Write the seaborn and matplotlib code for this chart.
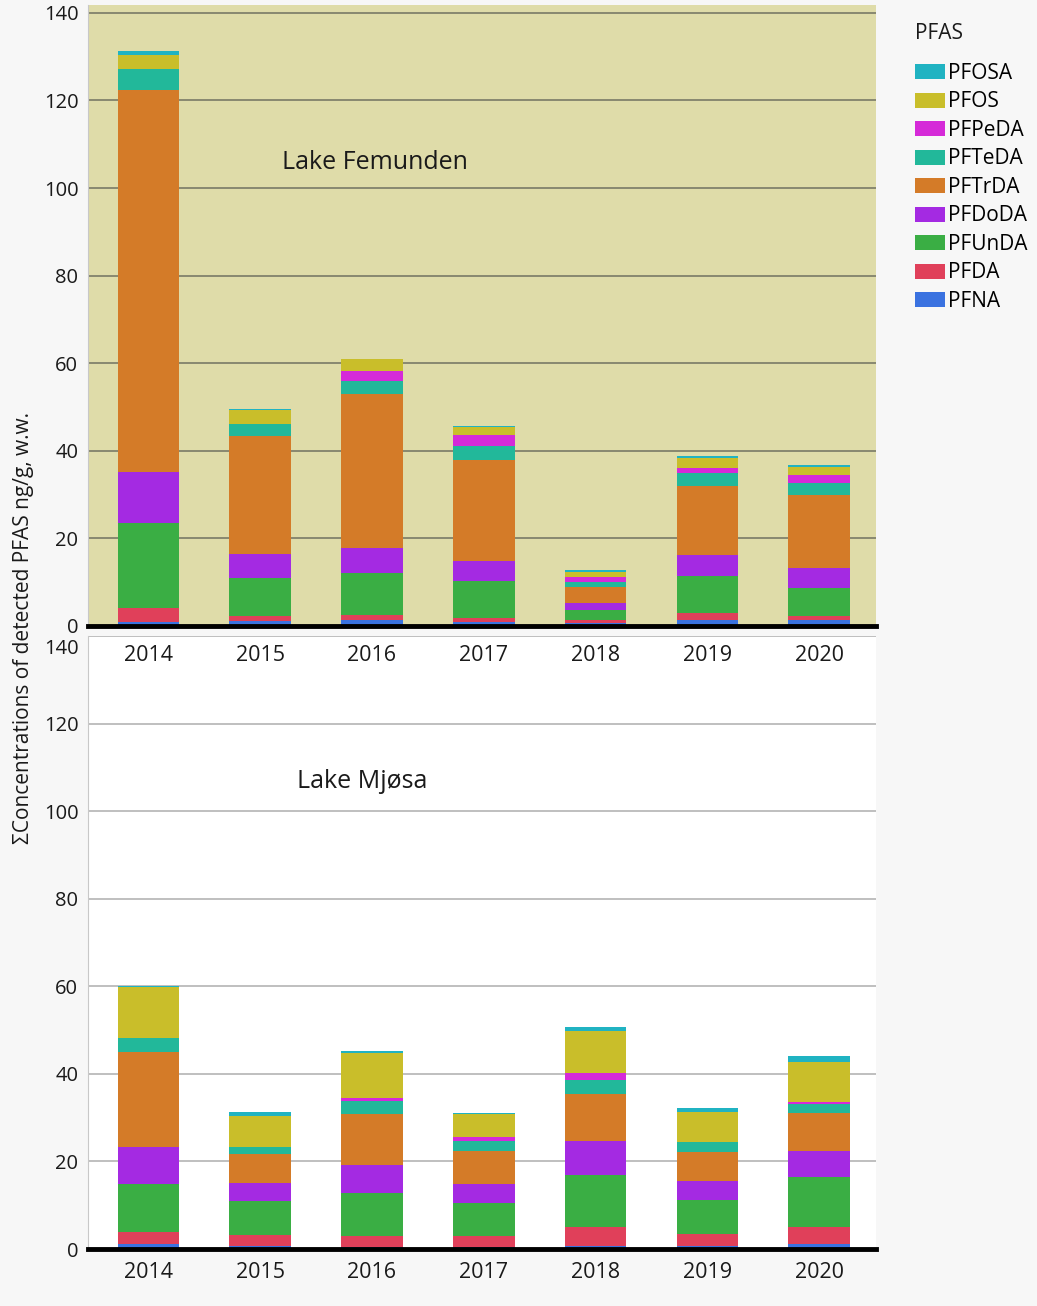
import matplotlib
matplotlib.use("Agg")
import matplotlib.pyplot as plt
import matplotlib.transforms as mtransforms
import numpy as np
import pandas as pd
import seaborn as sns
from matplotlib.patches import Patch

YEARS = ["2014", "2015", "2016", "2017", "2018", "2019", "2020"]
COMPOUNDS = ["PFNA", "PFDA", "PFUnDA", "PFDoDA", "PFTrDA", "PFTeDA", "PFPeDA", "PFOS", "PFOSA"]
COLORS = {
    "PFNA": "#3a72e0",
    "PFDA": "#e0405a",
    "PFUnDA": "#3aae44",
    "PFDoDA": "#a42ae2",
    "PFTrDA": "#d47b28",
    "PFTeDA": "#22b89a",
    "PFPeDA": "#d52ad8",
    "PFOS": "#c9be2a",
    "PFOSA": "#20b3c2",
}

# Lake Femunden, ng/g w.w., per compound and year
fem_pfna = [0.9, 1.1, 1.3, 0.9, 0.6, 1.4, 1.3]
fem_pfda = [3.2, 1.1, 1.1, 0.9, 0.7, 1.6, 0.9]
fem_pfunda = [19.3, 8.8, 9.8, 8.4, 2.4, 8.5, 6.5]
fem_pfdoda = [11.7, 5.5, 5.6, 4.6, 1.5, 4.8, 4.5]
fem_pftrda = [87.2, 26.8, 35.1, 23.1, 3.8, 15.6, 16.6]
fem_pfteda = [4.8, 2.9, 3.1, 3.1, 1.0, 3.0, 2.8]
fem_pfpeda = [0.0, 0.0, 2.3, 2.6, 1.2, 1.1, 1.8]
fem_pfos = [3.3, 3.0, 2.6, 1.8, 1.2, 2.3, 2.0]
fem_pfosa = [1.0, 0.3, 0.0, 0.3, 0.4, 0.5, 0.4]

# Lake Mjøsa
mjo_pfna = [1.1, 0.8, 0.5, 0.4, 0.8, 0.8, 1.1]
mjo_pfda = [2.7, 2.4, 2.4, 2.5, 4.3, 2.6, 4.0]
mjo_pfunda = [11.1, 7.7, 9.9, 7.6, 11.9, 7.7, 11.3]
mjo_pfdoda = [8.4, 4.2, 6.4, 4.4, 7.6, 4.5, 5.9]
mjo_pftrda = [21.7, 6.7, 11.7, 7.5, 10.7, 6.5, 8.8]
mjo_pfteda = [3.1, 1.5, 2.8, 2.3, 3.4, 2.3, 2.1]
mjo_pfpeda = [0.0, 0.0, 0.8, 0.9, 1.4, 0.0, 0.3]
mjo_pfos = [11.7, 7.2, 10.2, 5.2, 9.8, 6.9, 9.3]
mjo_pfosa = [0.3, 0.8, 0.6, 0.3, 0.9, 1.0, 1.4]

femunden = [fem_pfna, fem_pfda, fem_pfunda, fem_pfdoda, fem_pftrda,
            fem_pfteda, fem_pfpeda, fem_pfos, fem_pfosa]
mjosa = [mjo_pfna, mjo_pfda, mjo_pfunda, mjo_pfdoda, mjo_pftrda,
         mjo_pfteda, mjo_pfpeda, mjo_pfos, mjo_pfosa]


def stacked_frame(series):
    rows = []
    for comp, vals in zip(COMPOUNDS, series):
        for year, v in zip(YEARS, vals):
            rows.append({"year": year, "compound": comp, "value": v})
    df = pd.DataFrame(rows)
    df["compound"] = pd.Categorical(df["compound"], COMPOUNDS, ordered=True)
    df = df.sort_values(["year", "compound"])
    df["cum"] = df.groupby("year")["value"].cumsum()
    return df


def draw_panel(ax, df, title, title_xy, grid_color):
    # tallest (cumulative) first so lower layers overlay it
    for comp in COMPOUNDS[::-1]:
        sub = df[df["compound"] == comp]
        sns.barplot(data=sub, x="year", y="cum", order=YEARS, color=COLORS[comp],
                    saturation=1, width=0.55, errorbar=None, linewidth=0, ax=ax)
    ax.set_xlim(-0.54, 6.51)
    ax.set_yticks(np.arange(0, 141, 20))
    ax.yaxis.grid(True, color=grid_color, linewidth=1.2)
    ax.set_axisbelow(True)
    ax.axhline(0, color="black", linewidth=3.5, zorder=6, clip_on=False)
    ax.set_xlabel("")
    ax.set_ylabel("")
    ax.tick_params(axis="both", length=0, labelcolor="#1a1a1a", pad=7)
    ax.tick_params(axis="x", labelsize=15.5)
    ax.tick_params(axis="y", labelsize=14.5)
    for side in ["top", "right", "bottom"]:
        ax.spines[side].set_visible(False)
    ax.spines["left"].set_color("#c8c8c8")
    ax.text(title_xy[0], title_xy[1], title, transform=ax.transAxes, ha="center",
            va="center", fontsize=18, color="#1a1a1a")


plt.rcParams["font.family"] = ["Open Sans", "DejaVu Sans"]

fig = plt.figure(figsize=(10.37, 13.06), dpi=100, facecolor="#f7f7f7")
ax_top = fig.add_axes([0.0849, 0.5207, 0.760, 0.4755])
ax_bot = fig.add_axes([0.0849, 0.0436, 0.760, 0.4694])
ax_top.set_zorder(2)
ax_bot.set_zorder(1)
ax_top.set_facecolor("#dfdca9")
ax_bot.set_facecolor("white")

draw_panel(ax_top, stacked_frame(femunden), "Lake Femunden", (0.364, 0.747), "#7a7a66")
draw_panel(ax_bot, stacked_frame(mjosa), "Lake Mjøsa", (0.348, 0.762), "#b4b4b4")
ax_top.set_ylim(0, 141.8)
ax_bot.set_ylim(0, 140)
ax_top.tick_params(axis="x", pad=14)
ax_bot.tick_params(axis="x", pad=9)
# the top tick of the lower panel hangs below its gridline, as in the source
top_lbl = ax_bot.get_yticklabels()[-1]
top_lbl.set_va("top")
top_lbl.set_transform(top_lbl.get_transform()
                      + mtransforms.ScaledTranslation(0, -2 / 72, fig.dpi_scale_trans))

fig.text(0.023, 0.519, "ΣConcentrations of detected PFAS ng/g, w.w.", rotation=90,
         ha="center", va="center", fontsize=15, color="#1a1a1a")

fig.text(0.882, 0.974, "PFAS", ha="left", va="center", fontsize=15, color="#1a1a1a")
handles = [Patch(facecolor=COLORS[c], label=c) for c in COMPOUNDS[::-1]]
fig.legend(handles=handles, loc="upper left", bbox_to_anchor=(0.868, 0.963),
           frameon=False, fontsize=15, handlelength=1.45, handleheight=0.75,
           handletextpad=0.15, labelspacing=0.36, borderpad=0.3, borderaxespad=0.4)

fig.savefig("out.png", dpi=100, facecolor=fig.get_facecolor())
